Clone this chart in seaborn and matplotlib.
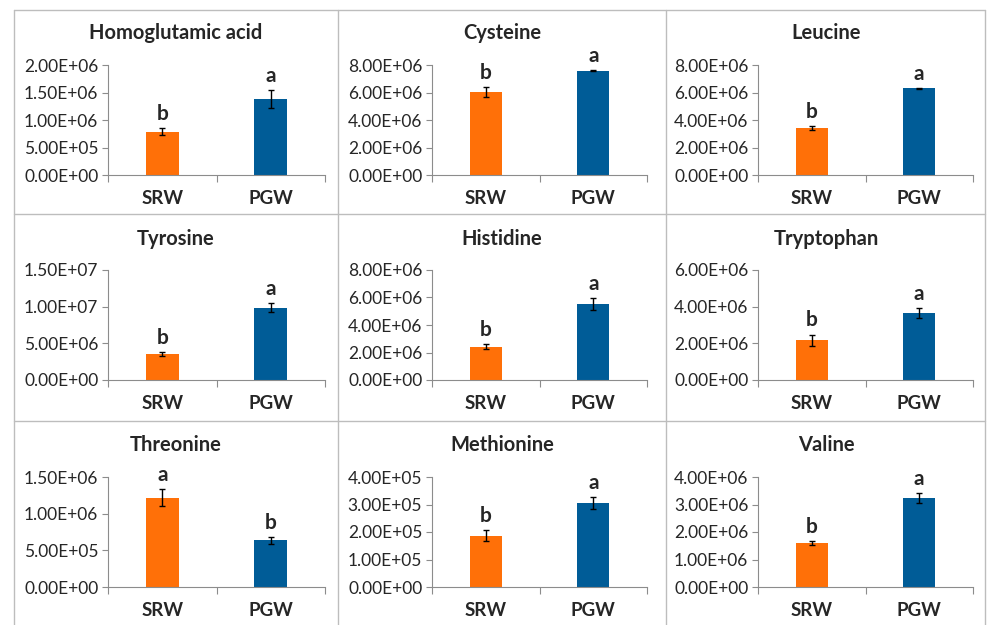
import matplotlib
matplotlib.use("Agg")
import matplotlib.pyplot as plt
from matplotlib.lines import Line2D
from matplotlib.ticker import FuncFormatter, MultipleLocator, FixedLocator
import seaborn as sns
import pandas as pd

# values
amino_acids = ["Homoglutamic acid", "Cysteine", "Leucine",
               "Tyrosine", "Histidine", "Tryptophan",
               "Threonine", "Methionine", "Valine"]
groups = ["SRW", "PGW"]
srw_mean = [7.9e5, 6.05e6, 3.42e6, 3.58e6, 2.42e6, 2.18e6, 1.215e6, 1.87e5, 1.59e6]
pgw_mean = [1.38e6, 7.58e6, 6.3e6, 9.88e6, 5.52e6, 3.64e6, 6.35e5, 3.06e5, 3.25e6]
srw_err = [0.6e5, 0.35e6, 0.15e6, 0.25e6, 0.18e6, 0.3e6, 0.115e6, 0.19e5, 0.08e6]
pgw_err = [1.6e5, 0.04e6, 0.03e6, 0.6e6, 0.46e6, 0.26e6, 0.045e6, 0.21e5, 0.18e6]
srw_letter = ["b", "b", "b", "b", "b", "b", "a", "b", "b"]
pgw_letter = ["a", "a", "a", "a", "a", "a", "b", "a", "a"]
y_max = [2e6, 8e6, 8e6, 1.5e7, 8e6, 6e6, 1.5e6, 4e5, 4e6]
y_step = [5e5, 2e6, 2e6, 5e6, 2e6, 2e6, 5e5, 1e5, 1e6]

colors = {"SRW": "#FF7008", "PGW": "#005C97"}

sns.set_style("white")
plt.rcParams["font.family"] = ["Lato", "DejaVu Sans"]

W, H = 988, 625
fig = plt.figure(figsize=(W / 100, H / 100), dpi=100)

# panel grid, in pixels
col_left = [108, 432, 758]
col_width = [217, 215, 215]
panel_center = [176, 502, 826]
row_top = [65, 270, 477]
title_y = [33, 239, 445]
ax_height = 110


def sci(v, pos):
    return "{:.2E}".format(v)


for i, name in enumerate(amino_acids):
    r, c = divmod(i, 3)
    left = col_left[c] / W
    bottom = 1 - (row_top[r] + ax_height) / H
    ax = fig.add_axes([left, bottom, col_width[c] / W, ax_height / H])

    df = pd.DataFrame({
        "group": groups,
        "value": [srw_mean[i], pgw_mean[i]],
        "err": [srw_err[i], pgw_err[i]],
        "letter": [srw_letter[i], pgw_letter[i]],
    })
    sns.barplot(data=df, x="group", y="value", hue="group", palette=colors,
                saturation=1, width=0.3, errorbar=None, legend=False,
                linewidth=0, ax=ax)

    for patch, (_, row) in zip(ax.patches, df.iterrows()):
        xc = patch.get_x() + patch.get_width() / 2
        top = patch.get_height()
        ax.errorbar(xc, top, yerr=row["err"], fmt="none", ecolor="black",
                    elinewidth=1, capsize=2.5, capthick=1)
        ax.annotate(row["letter"], (xc, top + row["err"]), xytext=(0, 3),
                    textcoords="offset points", ha="center", va="bottom",
                    fontsize=15, fontweight="bold", annotation_clip=False)

    ax.set_xlim(-0.5, 1.5)
    ax.set_ylim(0, y_max[i])
    ax.yaxis.set_major_locator(MultipleLocator(y_step[i]))
    ax.yaxis.set_major_formatter(FuncFormatter(sci))
    ax.xaxis.set_minor_locator(FixedLocator([-0.5, 0.5, 1.5]))
    ax.set_xlabel("")
    ax.set_ylabel("")

    fig.text(panel_center[c] / W, 1 - title_y[r] / H, name, ha="center",
             va="center", fontsize=14.5, fontweight="bold")

    sns.despine(ax=ax)
    for s in ["left", "bottom"]:
        ax.spines[s].set_color("#8C8C8C")
        ax.spines[s].set_linewidth(0.8)
    ax.tick_params(axis="y", which="major", direction="out", length=4,
                   width=0.8, color="#8C8C8C", labelsize=12.5, pad=3,
                   left=True)
    ax.tick_params(axis="x", which="major", length=0, labelsize=13.5, pad=11)
    ax.tick_params(axis="x", which="minor", direction="out", length=5,
                   width=0.8, color="#8C8C8C", bottom=True)
    for lab in ax.get_xticklabels():
        lab.set_fontweight("bold")

# panel frames
frame = "#BDBDBD"
for y in [10, 214, 421]:
    fig.add_artist(Line2D([14 / W, 985 / W], [1 - y / H, 1 - y / H],
                          color=frame, lw=1, transform=fig.transFigure))
for x in [14, 338, 666, 985]:
    fig.add_artist(Line2D([x / W, x / W], [1 - 10 / H, 0],
                          color=frame, lw=1, transform=fig.transFigure))

fig.savefig("out.png", dpi=100)
